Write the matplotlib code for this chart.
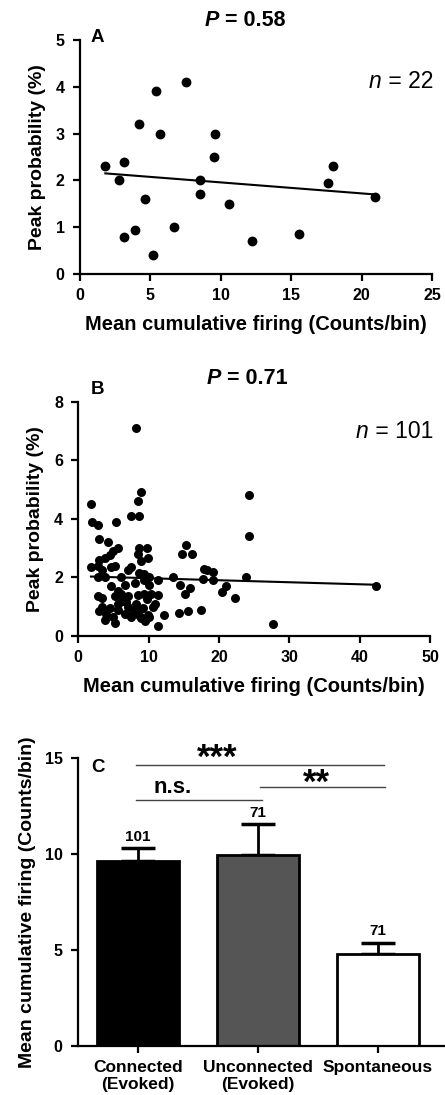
import numpy as np
import matplotlib
matplotlib.use("Agg")
import matplotlib.pyplot as plt

plt.rcParams['font.family'] = ['Liberation Sans', 'DejaVu Sans']

# ---------------- data ----------------
# Panel A
a_x = [1.8, 2.8, 3.1, 3.1, 3.9, 4.6, 5.2, 6.7, 8.55, 8.55, 9.5, 10.6, 12.2, 15.55,
       17.6, 18.0, 20.95, 4.2, 5.4, 5.7, 7.5, 9.6]
a_y = [2.3, 2.0, 2.4, 0.8, 0.95, 1.6, 0.4, 1.0, 2.0, 1.7, 2.5, 1.5, 0.7, 0.85,
       1.95, 2.3, 1.65, 3.2, 3.9, 3.0, 4.1, 3.0]
fit_a_x = [1.8, 20.95]
fit_a_y = [2.15, 1.70]

# Panel B
b_x = [1.8, 1.95, 2.8, 5.4, 8.2, 8.9, 8.5, 7.5, 8.6, 3.0, 4.2, 5.6, 4.9, 4.45, 3.75,
       3.0, 8.7, 9.7, 8.5, 9.9, 1.85, 2.8, 4.7, 3.3, 7.5, 7.05, 8.95, 8.7, 10.1, 11.3,
       2.8, 3.75, 4.7, 5.6, 6.6, 8.0, 9.4, 10.1, 2.8, 3.3, 5.2, 6.1, 7.05, 8.5, 9.4,
       10.4, 11.3, 5.6, 6.8, 8.2, 9.7, 10.85, 3.3, 4.45, 5.6, 7.05, 8.0, 9.2, 10.6,
       3.0, 4.0, 4.9, 6.6, 7.5, 8.7, 9.9, 3.75, 5.2, 8.95, 10.1, 11.3,
       24.3, 24.3, 15.3, 14.8, 16.1, 17.85, 19.2, 17.7, 19.2, 13.4, 14.45, 15.9, 15.2,
       21.0, 20.5, 22.3, 23.8, 14.3, 15.6, 17.5, 12.2, 27.7, 42.3, 18.3,
       6.0, 5.2, 9.3, 7.8, 6.2, 9.5]
b_y = [4.5, 3.9, 3.8, 3.9, 7.1, 4.9, 4.6, 4.1, 4.1, 3.3, 3.2, 3.0, 2.9, 2.75, 2.65,
       2.6, 3.0, 3.0, 2.8, 2.65, 2.35, 2.4, 2.35, 2.25, 2.35, 2.25, 2.55, 2.15, 2.0, 1.9,
       2.0, 2.0, 1.7, 1.55, 1.75, 1.8, 1.9, 1.75, 1.35, 1.3, 1.35, 1.45, 1.35, 1.4, 1.45,
       1.45, 1.4, 1.1, 1.15, 1.1, 1.25, 1.1, 1.0, 0.95, 0.9, 1.0, 0.9, 0.95, 1.0,
       0.85, 0.75, 0.65, 0.75, 0.65, 0.7, 0.7, 0.55, 0.45, 0.6, 0.65, 0.35,
       4.8, 3.4, 3.1, 2.8, 2.8, 2.3, 2.2, 1.95, 1.9, 2.0, 1.75, 1.65, 1.45,
       1.7, 1.5, 1.3, 2.0, 0.8, 0.85, 0.9, 0.7, 0.4, 1.7, 2.25,
       2.0, 2.4, 2.1, 0.8, 1.2, 0.5]
fit_b_x = [1.8, 42.3]
fit_b_y = [2.03, 1.75]

# Panel C
c_labels = ['Connected\n(Evoked)', 'Unconnected\n(Evoked)', 'Spontaneous']
c_means = [9.63, 9.95, 4.78]
c_sem = [0.67, 1.6, 0.58]
c_n = ['101', '71', '71']
c_colors = ['#000000', '#555555', '#ffffff']

W, H = 445, 1095
fig = plt.figure(figsize=(W / 100, H / 100), dpi=100)

TICK = 11.5
XLAB = 14.5
YLAB = 14


def add_ax(left, right, top, bottom):
    return fig.add_axes([left / W, 1 - bottom / H, (right - left) / W, (bottom - top) / H])


def style(ax):
    for s in ['top', 'right']:
        ax.spines[s].set_visible(False)
    for s in ['left', 'bottom']:
        ax.spines[s].set_linewidth(1.6)
    ax.tick_params(direction='out', length=5, width=1.6, labelsize=TICK)
    ax.tick_params(axis='x', pad=5)
    ax.tick_params(axis='y', pad=6)
    for lab in ax.get_xticklabels() + ax.get_yticklabels():
        lab.set_fontweight('bold')


renderer = fig.canvas.get_renderer()


def mixed_text(x_center, y, first, rest, size):
    t1 = fig.text(0, 0, first, fontsize=size, fontweight='bold', fontstyle='italic',
                  va='center', ha='left')
    t2 = fig.text(0, 0, rest, fontsize=size, fontweight='bold', va='center', ha='left')
    w1 = t1.get_window_extent(renderer).width
    w2 = t2.get_window_extent(renderer).width
    x0 = x_center - (w1 + w2) / 2
    t1.set_position((x0 / W, 1 - y / H))
    t2.set_position(((x0 + w1) / W, 1 - y / H))


def right_text(x_right, y, first, rest, size):
    t1 = fig.text(0, 0, first, fontsize=size, fontstyle='italic', va='center', ha='left')
    t2 = fig.text(x_right / W, 1 - y / H, rest, fontsize=size, va='center', ha='right')
    w1 = t1.get_window_extent(renderer).width
    w2 = t2.get_window_extent(renderer).width
    t1.set_position(((x_right - w2 - w1) / W, 1 - y / H))


# ---------------- Panel A ----------------
axA = add_ax(80, 432, 40, 274)
axA.scatter(a_x, a_y, s=50, color='black', zorder=3, linewidths=0)
axA.plot(fit_a_x, fit_a_y, color='black', lw=1.5)
axA.set_xlim(0, 25)
axA.set_ylim(0, 5)
axA.set_xticks([0, 5, 10, 15, 20, 25])
axA.set_yticks([0, 1, 2, 3, 4, 5])
style(axA)
axA.set_xlabel('Mean cumulative firing (Counts/bin)', fontsize=XLAB, fontweight='bold', labelpad=9)
axA.set_ylabel('Peak probability (%)', fontsize=YLAB, fontweight='bold', labelpad=7)
fig.text(91 / W, 1 - 37 / H, 'A', fontsize=13.5, fontweight='bold', va='center', ha='left')
mixed_text(245, 20, 'P', ' = 0.58', 15.5)
right_text(433, 82, 'n', ' = 22', 16.5)

# ---------------- Panel B ----------------
axB = add_ax(78.3, 430, 401.7, 636)
axB.scatter(b_x, b_y, s=42, color='black', zorder=3, linewidths=0)
axB.plot(fit_b_x, fit_b_y, color='black', lw=1.5)
axB.set_xlim(0, 50)
axB.set_ylim(0, 8)
axB.set_xticks([0, 10, 20, 30, 40, 50])
axB.set_yticks([0, 2, 4, 6, 8])
style(axB)
axB.set_xlabel('Mean cumulative firing (Counts/bin)', fontsize=XLAB, fontweight='bold', labelpad=9)
axB.set_ylabel('Peak probability (%)', fontsize=YLAB, fontweight='bold', labelpad=7)
fig.text(91 / W, 1 - 390 / H, 'B', fontsize=13.5, fontweight='bold', va='center', ha='left')
mixed_text(247, 378, 'P', ' = 0.71', 15.5)
right_text(433, 432, 'n', ' = 101', 16.5)

# ---------------- Panel C ----------------
axC = add_ax(78, 444, 758.3, 1045.7)
xpos = np.arange(len(c_means))
axC.bar(xpos, c_means, width=0.69, color=c_colors, edgecolor='black', linewidth=2, zorder=2)
axC.errorbar(xpos, c_means, yerr=[np.zeros(len(c_sem)), c_sem], fmt='none', ecolor='black',
             elinewidth=2, capsize=12.5, capthick=2.5, zorder=1)
for xi, m, e, n in zip(xpos, c_means, c_sem, c_n):
    axC.text(xi, m + e + 0.25, n, ha='center', va='bottom', fontsize=11, fontweight='bold')
axC.set_xlim(-0.5, 2.55)
axC.set_ylim(0, 15)
axC.set_yticks([0, 5, 10, 15])
axC.set_xticks(xpos)
axC.set_xticklabels(c_labels)
style(axC)
axC.tick_params(axis='x', labelsize=12.5, pad=5)
axC.set_ylabel('Mean cumulative firing (Counts/bin)', fontsize=YLAB, fontweight='bold', labelpad=6)
fig.text(91 / W, 1 - 768 / H, 'C', fontsize=13.5, fontweight='bold', va='center', ha='left')

# significance bars
axC.plot([-0.02, 2.05], [14.64, 14.64], color='#444444', lw=1)
axC.plot([-0.02, 1.03], [12.83, 12.83], color='#444444', lw=1)
axC.plot([1.02, 2.06], [13.49, 13.49], color='#444444', lw=1)
axC.text(0.66, 14.52, '***', ha='center', va='baseline', fontsize=25, fontweight='bold')
axC.text(0.29, 12.95, 'n.s.', ha='center', va='bottom', fontsize=16, fontweight='bold')
axC.text(1.49, 13.2, '**', ha='center', va='baseline', fontsize=25, fontweight='bold')

fig.savefig('out.png', dpi=100)
